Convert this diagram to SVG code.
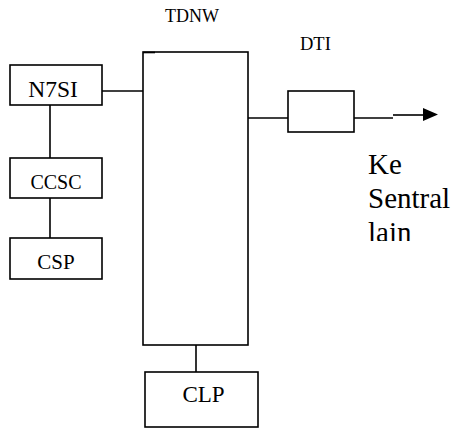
<svg xmlns="http://www.w3.org/2000/svg" width="453" height="428" viewBox="0 0 453 428">
<defs>
<style>
.box{fill:#fff;stroke:#000;stroke-width:1.6}
.ln{stroke:#000;stroke-width:1.6;fill:none}
text{font-family:'Liberation Serif','DejaVu Serif',serif;fill:#000}
.lbl{text-anchor:middle}
</style>
<clipPath id="clipLain"><rect x="360" y="140" width="93" height="101"/></clipPath>
</defs>
<rect width="453" height="428" fill="#fff"/>
<g id="connectors">
<line class="ln" x1="102" y1="91" x2="143" y2="91"/>
<line class="ln" x1="50" y1="105" x2="50" y2="158"/>
<line class="ln" x1="50" y1="198" x2="50" y2="238"/>
<line class="ln" x1="196" y1="345" x2="196" y2="372"/>
<line class="ln" x1="248" y1="118" x2="288" y2="118"/>
<line class="ln" x1="354" y1="118" x2="393" y2="118"/>
<line class="ln" x1="393" y1="115" x2="424" y2="115"/>
<path d="M423,108 L438,114.5 L423,121 Z" fill="#000"/>
</g>
<g id="tdnw">
<rect class="box" x="143" y="52" width="105" height="293"/>
<line class="ln" x1="143" y1="52.5" x2="155" y2="52.5" stroke-width="2.5"/>
<text x="165" y="22" font-family="Liberation Serif, DejaVu Serif, serif" font-size="18">TDNW</text>
</g>
<g id="n7si">
<rect class="box" x="10" y="65" width="92" height="40"/>
<text class="lbl" x="53" y="97" font-family="Liberation Serif, DejaVu Serif, serif" font-size="23.5">N7SI</text>
</g>
<g id="ccsc">
<rect class="box" x="10" y="158" width="92" height="40"/>
<text class="lbl" x="56" y="189" font-family="Liberation Serif, DejaVu Serif, serif" font-size="20">CCSC</text>
</g>
<g id="csp">
<rect class="box" x="10" y="238" width="92" height="41"/>
<text class="lbl" x="56" y="269" font-family="Liberation Serif, DejaVu Serif, serif" font-size="21">CSP</text>
</g>
<g id="clp">
<rect class="box" x="145" y="372" width="113" height="55"/>
<text class="lbl" x="203.5" y="402" font-family="Liberation Serif, DejaVu Serif, serif" font-size="23">CLP</text>
</g>
<g id="dti">
<rect class="box" x="288" y="91" width="66" height="41"/>
<text x="300" y="50" font-family="Liberation Serif, DejaVu Serif, serif" font-size="18.5">DTI</text>
</g>
<g id="ke-sentral-lain" clip-path="url(#clipLain)">
<text font-family="Liberation Serif, DejaVu Serif, serif" font-size="29"><tspan x="368" y="174">Ke</tspan><tspan x="368" y="208">Sentral</tspan><tspan x="368" y="242">lain</tspan></text>
</g>
</svg>
